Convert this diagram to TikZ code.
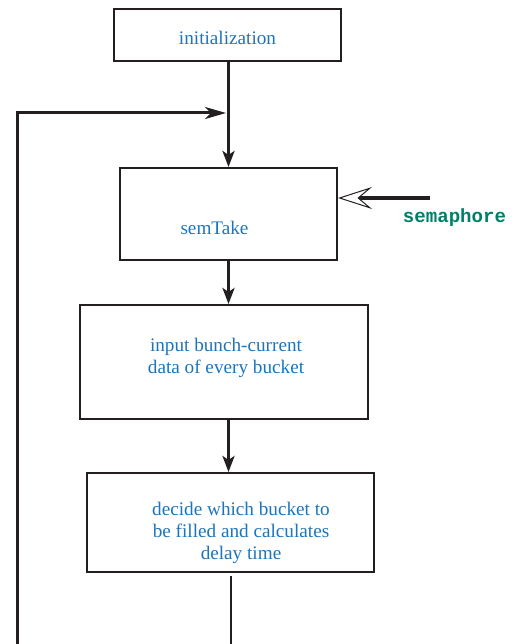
\documentclass[tikz,border=0pt]{standalone}
\usepackage{fontspec}
\setmainfont{Liberation Serif}
\newfontfamily\semfont{Liberation Mono}
\usetikzlibrary{arrows.meta}
\definecolor{txtblue}{RGB}{28,117,188}
\definecolor{semteal}{RGB}{0,128,105}
\definecolor{linegray}{RGB}{35,31,32}
\begin{document}
\begin{tikzpicture}[x=1pt,y=-1pt,
  box/.style={draw=linegray, line width=2pt, inner sep=0pt},
  lbl/.style={text=txtblue, font=\fontsize{19.2}{22}\selectfont, align=center, inner sep=0pt},
  flow/.style={draw=linegray, line width=3pt, -{Stealth[length=16pt,width=12pt,inset=4pt]}},
  loopflow/.style={draw=linegray, line width=3pt, -{Stealth[length=21pt,width=12pt,inset=6pt]}},
  plain/.style={draw=linegray, line width=2pt},
  semarrow/.style={draw=linegray, line width=4.5pt, -{Stealth[fill=white, length=34pt, width=22pt, inset=13pt, line width=1pt]}},
]
\useasboundingbox (0,0) rectangle (512,644);
% boxes
\node[box, minimum width=227pt, minimum height=52pt] (init) at (227.5,35) {};
\node[box, minimum width=217pt, minimum height=92pt] (sem) at (228.5,214) {};
\node[box, minimum width=288pt, minimum height=114pt] (b3) at (224,362) {};
\node[box, minimum width=287pt, minimum height=99pt] (b4) at (230.5,522.5) {};
% labels
\node[lbl] (tinit) at (227.5,37.5) {initialization};
\node[lbl] (tsem) at (214.5,227.5) {semTake};
\node[lbl] (tb3) at (226,357.5) {input bunch-current\\data of every bucket};
\node[lbl] (tb4) at (241,532.5) {decide which bucket to\\be filled and calculates\\delay time};
\node[text=semteal, font=\semfont\bfseries\fontsize{19.1}{20}\selectfont, inner sep=0pt] (semlbl) at (454.5,218) {semaphore};
% coordinates
\coordinate (lb) at (17,644);
\coordinate (lt) at (17,113);
\coordinate (lj) at (226,113);
\coordinate (semsrc) at (430,198);
\coordinate (bend) at (231,644);
% connectors
\draw[flow] (init.south -| sem.north) -- (sem.north);
\draw[loopflow] (lb) -- (lt) -- (lj);
\draw[flow] (sem.south) -- (sem.south |- b3.north);
\draw[flow] (sem.south |- b3.south) -- (sem.south |- b4.north);
\draw[semarrow] (semsrc) -- (sem.east |- semsrc);
\draw[plain] ([xshift=0.5pt,yshift=-3pt]b4.south) -- (bend);
\end{tikzpicture}
\end{document}
